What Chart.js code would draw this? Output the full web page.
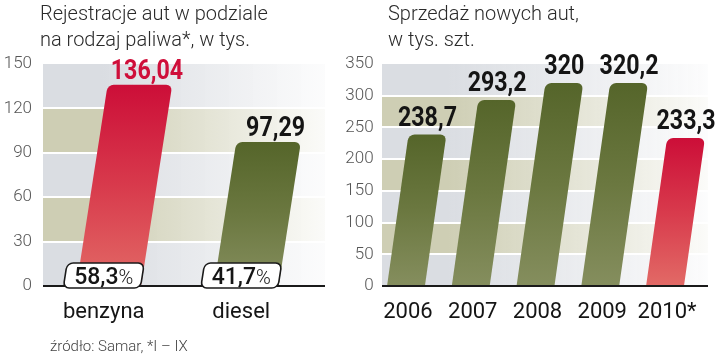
<!DOCTYPE html>
<html><head><meta charset="utf-8">
<script src="https://cdn.jsdelivr.net/npm/chart.js@4.4.1/dist/chart.umd.min.js"></script>
<style>
html,body{margin:0;padding:0;background:#fff;width:720px;height:356px;overflow:hidden;position:relative;}
.t{position:absolute;font-family:Roboto,"Open Sans",sans-serif;font-weight:300;font-size:20px;line-height:26px;color:#2a2a2a;white-space:nowrap;}
#c1{position:absolute;left:0;top:0;}
#c2{position:absolute;left:340px;top:0;}
</style></head><body>
<canvas id="c1" width="340" height="356"></canvas>
<canvas id="c2" width="380" height="356"></canvas>
<div class="t" style="left:40px;top:0px">Rejestracje aut w podziale<br>na rodzaj paliwa*, w tys.</div>
<div class="t" style="left:388px;top:0px">Sprzedaż nowych aut,<br>w tys. szt.</div>
<div class="t" style="left:50px;top:337px;font-size:15px;line-height:18px;color:#444">źródło: Samar, *I – IX</div>
<script>
// ---- data ----
const fuelCategories = ['benzyna', 'diesel'];
const fuelValues = [136.04, 97.29];
const fuelShares = [58.3, 41.7];
const fuelTicks = [0, 30, 60, 90, 120, 150];

const yearCategories = ['2006', '2007', '2008', '2009', '2010*'];
const salesValues = [238.7, 293.2, 320, 320.2, 233.3];
const salesTicks = [0, 50, 100, 150, 200, 250, 300, 350];

// ---- style ----
const fmt = v => String(v).replace('.', ',');
const GRAD = {
  red: ['#cc0e38', '#d83a4c', '#e26a66'],
  olive: ['#55652a', '#6b7840', '#858e5e']
};
function barGrad(ctx, kind) {
  const chart = ctx.chart;
  if (!chart.chartArea || ctx.raw == null) return GRAD[kind][1];
  const y = chart.scales.y;
  const top = y.getPixelForValue(ctx.raw);
  const base = y.getPixelForValue(0);
  const g = chart.ctx.createLinearGradient(0, top, 0, base);
  g.addColorStop(0, GRAD[kind][0]);
  g.addColorStop(0.5, GRAD[kind][1]);
  g.addColorStop(1, GRAD[kind][2]);
  return g;
}

const bandPlugin = {
  id: 'slanted',
  beforeDatasetsDraw(chart, args, o) {
    const ctx = chart.ctx, ca = chart.chartArea, y = chart.scales.y;
    const x0 = ca.left + o.bandLeft, x1 = ca.right + o.bandRight;
    const ticks = y.ticks.map(t => t.value).sort((a, b) => b - a);
    ctx.save();
    for (let j = 0; j < ticks.length - 1; j++) {
      const yt = y.getPixelForValue(ticks[j]);
      const yb = y.getPixelForValue(ticks[j + 1]);
      const col = j % 2 === 0 ? o.gray : o.khaki;
      const g = ctx.createLinearGradient(x0, 0, x1, 0);
      g.addColorStop(0, `rgb(${col})`);
      g.addColorStop(0.2, `rgb(${col})`);
      g.addColorStop(1, `rgba(${col},0.08)`);
      ctx.fillStyle = g;
      ctx.fillRect(x0, yt, x1 - x0, yb - yt);
    }
    ctx.strokeStyle = '#ffffff';
    ctx.lineWidth = 2;
    for (let j = 1; j < ticks.length - 1; j++) {
      const yy = Math.round(y.getPixelForValue(ticks[j]));
      ctx.beginPath(); ctx.moveTo(x0, yy); ctx.lineTo(x1, yy); ctx.stroke();
    }
    ctx.restore();
    const base = y.getPixelForValue(0);
    ctx.save();
    ctx.transform(1, 0, -o.k, 1, o.k * base, 0);
  },
  afterDatasetsDraw(chart, args, o) {
    const ctx = chart.ctx, ca = chart.chartArea, y = chart.scales.y;
    ctx.restore();
    const base = y.getPixelForValue(0);
    const x0 = ca.left + o.bandLeft, x1 = ca.right + o.bandRight;
    ctx.save();
    ctx.strokeStyle = '#1a1a1a';
    ctx.lineWidth = 2;
    ctx.beginPath(); ctx.moveTo(x0, base); ctx.lineTo(x1, base); ctx.stroke();
    const meta = chart.getDatasetMeta(0);
    const data = chart.data.datasets[0].data;
    // share boxes
    if (o.shares) {
      meta.data.forEach((el, i) => {
        const main = fmt(o.shares[i]);
        ctx.font = '500 23px Roboto, sans-serif';
        const w1 = ctx.measureText(main).width;
        ctx.font = '300 20px Roboto, sans-serif';
        const w2 = ctx.measureText('%').width;
        const w = w1 + w2 + 18, h = 25;
        const cx = el.x + o.boxDx, cy = base - 10.5;
        ctx.save();
        ctx.translate(cx, cy);
        ctx.transform(1, 0, -o.k, 1, 0, 0);
        ctx.beginPath();
        ctx.roundRect(-w / 2, -h / 2, w, h, 6);
        ctx.fillStyle = '#ffffff';
        ctx.fill();
        ctx.lineWidth = 1.6;
        ctx.strokeStyle = '#1a1a1a';
        ctx.stroke();
        ctx.restore();
        ctx.fillStyle = '#151515';
        ctx.textBaseline = 'alphabetic';
        ctx.textAlign = 'left';
        const sx = cx - (w1 + w2) / 2;
        ctx.font = '500 23px Roboto, sans-serif';
        ctx.fillText(main, sx, cy + 8.5);
        ctx.font = '300 20px Roboto, sans-serif';
        ctx.fillText('%', sx + w1, cy + 8.5);
      });
    }
    // value labels (condensed bold)
    ctx.textAlign = 'center';
    ctx.textBaseline = 'alphabetic';
    ctx.font = 'bold 27px Roboto, sans-serif';
    meta.data.forEach((el, i) => {
      const topX = el.x + o.k * (base - el.y);
      ctx.save();
      ctx.translate(topX + o.labelDx, el.y - o.labelGap);
      ctx.scale(0.86, 1);
      ctx.fillStyle = o.labelColors[i];
      ctx.fillText(fmt(data[i]), 0, 0);
      ctx.restore();
    });
    ctx.restore();
  }
};

function makeChart(id, cats, vals, tickVals, colorKeys, opts) {
  return new Chart(document.getElementById(id), {
    type: 'bar',
    data: {
      labels: cats,
      datasets: [{
        data: vals,
        backgroundColor: (ctx) => barGrad(ctx, colorKeys[ctx.dataIndex] || 'olive'),
        borderWidth: 0,
        borderRadius: { topLeft: 6, topRight: 6, bottomLeft: 0, bottomRight: 0 },
        borderSkipped: false,
        barPercentage: opts.barPct,
        categoryPercentage: 1,
        clip: false
      }]
    },
    options: {
      responsive: false,
      animation: false,
      events: [],
      layout: { padding: { top: 64, left: 0, right: opts.padRight, bottom: 0 } },
      plugins: {
        legend: { display: false },
        tooltip: { enabled: false },
        slanted: opts.slant
      },
      scales: {
        x: {
          grid: { display: false, drawTicks: false },
          border: { display: false },
          ticks: {
            color: '#151515',
            font: { family: 'Roboto', size: 22, weight: 400 },
            padding: opts.xPad,
            labelOffset: opts.labelOffset,
            maxRotation: 0
          },
          afterFit(s) { s.height = 70; }
        },
        y: {
          min: 0,
          max: tickVals[tickVals.length - 1],
          grid: { display: false, drawTicks: false },
          border: { display: false },
          afterBuildTicks(s) { s.ticks = tickVals.map(v => ({ value: v })); },
          ticks: {
            color: '#555',
            font: { family: 'Roboto', size: 17, weight: 300 },
            padding: opts.yPad
          },
          afterFit(s) { s.width = opts.yWidth; }
        }
      }
    },
    plugins: [bandPlugin]
  });
}

makeChart('c1', fuelCategories, fuelValues, fuelTicks, ['red', 'olive'], {
  barPct: 0.47, padRight: 25, yWidth: 40, yPad: 8, xPad: 13, labelOffset: -5,
  slant: {
    k: 0.155, bandLeft: 3, bandRight: 10,
    gray: '218,221,226', khaki: '206,206,180',
    shares: fuelShares, boxDx: -5,
    labelColors: ['#cf0f3a', '#141414'], labelDx: 7, labelGap: 6
  }
});

makeChart('c2', yearCategories, salesValues, salesTicks, ['olive', 'olive', 'olive', 'olive', 'red'], {
  barPct: 0.585, padRight: 22.6, yWidth: 33.6, yPad: 0, xPad: 13, labelOffset: 2,
  slant: {
    k: 0.142, bandLeft: 8.4, bandRight: 10.6,
    gray: '218,221,226', khaki: '206,206,180',
    shares: null, boxDx: 0,
    labelColors: ['#141414', '#141414', '#141414', '#141414', '#141414'], labelDx: 0, labelGap: 9
  }
});
</script>
</body></html>
